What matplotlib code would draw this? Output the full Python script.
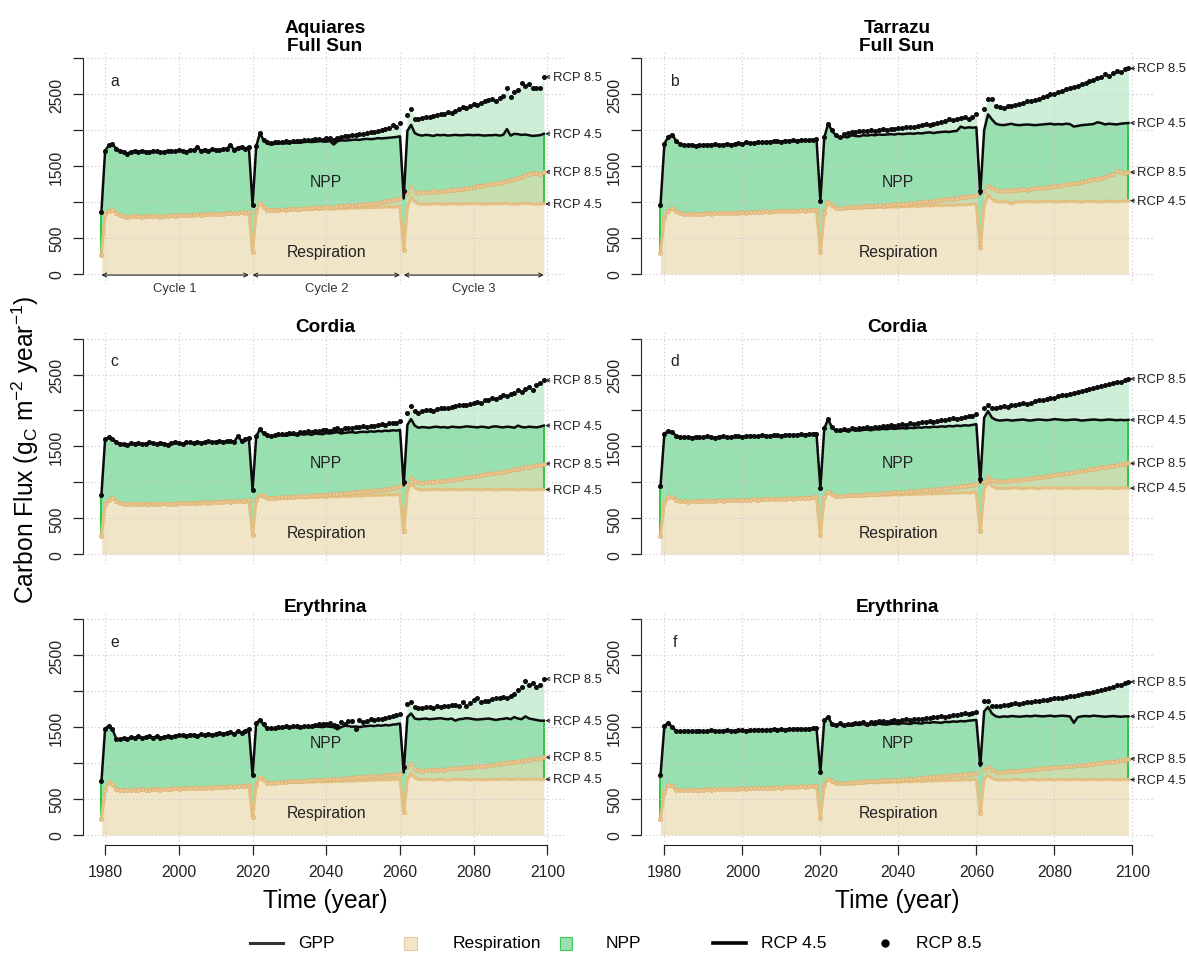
import numpy as np
import matplotlib
matplotlib.use("Agg")
import matplotlib.pyplot as plt
from matplotlib.lines import Line2D
from matplotlib.patches import Rectangle

plt.rcParams['font.family'] = ['Liberation Sans', 'DejaVu Sans']
plt.rcParams['mathtext.default'] = 'regular'

# ---------------- data ----------------
FIRST_YEAR, LAST_YEAR = 1979, 2099
cycle_spans = [(1979, 2019), (2020, 2060), (2061, 2099)]
cycle_names = ['Cycle 1', 'Cycle 2', 'Cycle 3']
x_ticks = [1980, 2000, 2020, 2040, 2060, 2080, 2100]
y_ticks = [0, 500, 1000, 1500, 2000, 2500, 3000]
y_ticklabels = ['0', '500', '', '1500', '', '2500', '']

# Panel a: Aquiares Full Sun
a_gpp_c1 = [867, 1716, 1790, 1808, 1745, 1710, 1700, 1675, 1700, 1710, 1695, 1715, 1700, 1690, 1715, 1705, 1690, 1700, 1715, 1710, 1705, 1720, 1712, 1700, 1720, 1725, 1760, 1715, 1730, 1712, 1735, 1725, 1720, 1735, 1745, 1790, 1730, 1755, 1770, 1745, 1765]
a_resp_c1 = [264, 830, 880, 895, 850, 815, 800, 790, 800, 805, 800, 795, 800, 805, 810, 800, 795, 805, 810, 815, 810, 815, 820, 815, 820, 825, 830, 825, 830, 830, 835, 835, 840, 840, 845, 850, 845, 855, 860, 855, 858]
a_gpp45_c2 = [960, 1780, 1960, 1860, 1815, 1800, 1810, 1815, 1820, 1815, 1825, 1830, 1825, 1830, 1835, 1840, 1835, 1840, 1845, 1850, 1840, 1850, 1800, 1845, 1860, 1855, 1860, 1865, 1870, 1865, 1875, 1880, 1875, 1880, 1890, 1885, 1890, 1895, 1900, 1905, 1915]
a_gpp85_c2 = [960, 1780, 1960, 1870, 1830, 1820, 1830, 1835, 1840, 1845, 1840, 1850, 1855, 1850, 1860, 1870, 1865, 1875, 1880, 1870, 1885, 1890, 1860, 1895, 1910, 1920, 1915, 1930, 1940, 1950, 1945, 1960, 1970, 1975, 1990, 2000, 2010, 2030, 2070, 2040, 2100]
a_resp45_c2 = [301, 870, 985, 930, 890, 885, 880, 885, 890, 885, 890, 895, 890, 895, 900, 895, 900, 905, 900, 905, 910, 905, 900, 910, 915, 910, 915, 920, 915, 920, 925, 920, 925, 925, 930, 925, 930, 935, 930, 935, 940]
a_resp85_c2 = [301, 870, 985, 935, 895, 890, 890, 895, 900, 895, 905, 910, 905, 910, 915, 915, 920, 925, 920, 930, 935, 930, 925, 940, 945, 950, 955, 950, 960, 965, 970, 975, 980, 990, 985, 1000, 1010, 1020, 1030, 1040, 1060]
a_gpp45_c3 = [1050, 1990, 2075, 1960, 1935, 1925, 1935, 1930, 1920, 1935, 1930, 1935, 1925, 1930, 1935, 1930, 1930, 1935, 1935, 1930, 1935, 1930, 1925, 1930, 1930, 1935, 1925, 1935, 2015, 1925, 1950, 1945, 1935, 1940, 1930, 1920, 1925, 1930, 1950]
a_gpp85_c3 = [1150, 2210, 2290, 2160, 2150, 2170, 2190, 2180, 2200, 2210, 2220, 2230, 2250, 2240, 2270, 2290, 2320, 2310, 2340, 2370, 2350, 2380, 2400, 2420, 2440, 2410, 2450, 2480, 2580, 2460, 2530, 2560, 2660, 2620, 2640, 2580, 2590, 2580, 2740]
a_resp45_c3 = [325, 930, 1065, 1010, 975, 970, 975, 970, 975, 980, 975, 970, 975, 980, 975, 970, 975, 980, 975, 978, 980, 975, 970, 975, 980, 978, 975, 980, 985, 975, 970, 975, 980, 985, 980, 975, 970, 975, 975]
a_resp85_c3 = [340, 1120, 1205, 1140, 1130, 1140, 1135, 1145, 1150, 1145, 1155, 1160, 1165, 1170, 1165, 1180, 1185, 1190, 1200, 1210, 1220, 1230, 1235, 1250, 1255, 1265, 1270, 1285, 1300, 1310, 1320, 1330, 1345, 1370, 1390, 1410, 1400, 1395, 1420]

# Panel b: Tarrazu Full Sun
b_gpp_c1 = [960, 1810, 1910, 1935, 1855, 1805, 1795, 1790, 1800, 1785, 1795, 1790, 1800, 1795, 1805, 1790, 1800, 1810, 1800, 1805, 1820, 1810, 1830, 1820, 1825, 1840, 1830, 1835, 1840, 1845, 1850, 1840, 1855, 1850, 1860, 1855, 1860, 1865, 1860, 1870, 1880]
b_resp_c1 = [290, 780, 880, 915, 870, 845, 835, 830, 835, 840, 835, 840, 845, 840, 845, 850, 845, 850, 855, 850, 855, 860, 855, 860, 865, 860, 865, 870, 865, 870, 875, 870, 875, 880, 875, 880, 885, 880, 890, 885, 895]
b_gpp45_c2 = [1020, 1900, 2090, 1990, 1925, 1890, 1910, 1900, 1930, 1920, 1915, 1930, 1925, 1935, 1930, 1940, 1935, 1940, 1945, 1940, 1950, 1945, 1950, 1955, 1950, 1960, 1955, 1965, 1970, 1960, 1970, 1975, 1980, 1975, 1985, 1990, 2050, 2030, 2040, 2035, 2040]
b_gpp85_c2 = [1020, 1900, 2090, 2000, 1940, 1910, 1950, 1960, 1975, 1980, 1985, 1990, 1995, 2000, 1995, 2005, 2010, 2005, 2015, 2020, 2030, 2025, 2040, 2050, 2045, 2060, 2070, 2080, 2075, 2090, 2100, 2110, 2130, 2150, 2140, 2160, 2170, 2180, 2160, 2190, 2220]
b_resp45_c2 = [310, 850, 995, 950, 910, 905, 910, 915, 910, 920, 915, 920, 925, 920, 925, 930, 925, 930, 935, 930, 935, 940, 935, 940, 945, 940, 945, 950, 945, 950, 955, 950, 955, 960, 955, 960, 965, 960, 965, 970, 975]
b_resp85_c2 = [310, 850, 995, 955, 920, 915, 920, 925, 930, 935, 930, 940, 945, 940, 950, 955, 950, 960, 965, 970, 975, 970, 980, 985, 990, 995, 1000, 1010, 1005, 1020, 1030, 1025, 1040, 1050, 1045, 1060, 1070, 1065, 1080, 1090, 1100]
b_gpp45_c3 = [1110, 2000, 2220, 2150, 2090, 2075, 2070, 2080, 2090, 2075, 2070, 2075, 2080, 2075, 2070, 2075, 2080, 2085, 2090, 2080, 2085, 2080, 2090, 2085, 2050, 2060, 2070, 2075, 2080, 2085, 2110, 2100, 2080, 2090, 2085, 2080, 2090, 2095, 2100]
b_gpp85_c3 = [1150, 2290, 2430, 2440, 2330, 2320, 2315, 2330, 2340, 2350, 2360, 2380, 2400, 2410, 2420, 2440, 2460, 2480, 2500, 2510, 2530, 2550, 2570, 2590, 2600, 2620, 2640, 2660, 2680, 2700, 2720, 2740, 2780, 2760, 2800, 2820, 2810, 2850, 2860]
b_resp45_c3 = [350, 950, 1100, 1040, 1010, 1000, 1005, 1000, 975, 1000, 1005, 1000, 1010, 1005, 1000, 1005, 1010, 1005, 1010, 1005, 1000, 1010, 1005, 1015, 1010, 1005, 1000, 1010, 1015, 1010, 1005, 1000, 1010, 1015, 1010, 1005, 1010, 1015, 1020]
b_resp85_c3 = [370, 1150, 1230, 1190, 1170, 1160, 1165, 1160, 1170, 1165, 1175, 1180, 1175, 1185, 1190, 1195, 1200, 1210, 1215, 1225, 1230, 1240, 1250, 1255, 1265, 1270, 1280, 1295, 1305, 1315, 1325, 1340, 1355, 1370, 1390, 1430, 1425, 1410, 1415]

# Panel c: Cordia (left)
c_gpp_c1 = [830, 1600, 1625, 1610, 1560, 1540, 1530, 1520, 1545, 1535, 1550, 1530, 1540, 1555, 1545, 1530, 1550, 1540, 1525, 1545, 1560, 1550, 1540, 1555, 1560, 1545, 1565, 1550, 1560, 1570, 1555, 1565, 1575, 1560, 1570, 1580, 1565, 1640, 1580, 1600, 1620]
c_resp_c1 = [250, 700, 760, 780, 740, 715, 705, 700, 705, 700, 695, 700, 705, 700, 695, 700, 705, 710, 705, 700, 705, 710, 715, 710, 715, 720, 715, 720, 725, 720, 725, 730, 725, 730, 735, 730, 735, 740, 745, 740, 750]
c_gpp45_c2 = [900, 1640, 1740, 1680, 1650, 1640, 1650, 1655, 1660, 1650, 1660, 1665, 1655, 1670, 1665, 1675, 1660, 1680, 1675, 1670, 1685, 1680, 1690, 1700, 1680, 1690, 1695, 1700, 1690, 1700, 1705, 1700, 1710, 1705, 1715, 1710, 1720, 1715, 1725, 1720, 1730]
c_gpp85_c2 = [900, 1640, 1740, 1690, 1660, 1650, 1665, 1670, 1680, 1670, 1685, 1690, 1680, 1700, 1695, 1710, 1700, 1720, 1715, 1725, 1730, 1720, 1740, 1750, 1735, 1750, 1760, 1755, 1770, 1765, 1780, 1775, 1790, 1785, 1800, 1810, 1805, 1820, 1830, 1825, 1850]
c_resp45_c2 = [270, 760, 830, 800, 775, 770, 775, 780, 775, 780, 785, 780, 785, 790, 785, 790, 795, 790, 795, 800, 795, 800, 805, 800, 805, 810, 805, 810, 815, 810, 815, 820, 815, 820, 825, 820, 825, 830, 825, 830, 835]
c_resp85_c2 = [270, 760, 830, 805, 780, 780, 785, 790, 790, 795, 800, 800, 805, 810, 810, 815, 820, 820, 825, 830, 830, 835, 840, 840, 845, 850, 855, 860, 860, 870, 875, 880, 885, 890, 895, 900, 910, 915, 920, 930, 945]
c_gpp45_c3 = [960, 1800, 1880, 1790, 1760, 1770, 1765, 1760, 1770, 1775, 1765, 1770, 1760, 1775, 1770, 1765, 1770, 1780, 1775, 1770, 1765, 1775, 1770, 1760, 1775, 1780, 1770, 1765, 1775, 1770, 1760, 1790, 1770, 1765, 1775, 1770, 1765, 1775, 1790]
c_gpp85_c3 = [1000, 1960, 2060, 1990, 1970, 1990, 2000, 2010, 1990, 2020, 2030, 2040, 2030, 2050, 2060, 2070, 2080, 2075, 2090, 2100, 2120, 2110, 2140, 2150, 2170, 2160, 2190, 2210, 2200, 2230, 2250, 2280, 2260, 2300, 2320, 2290, 2350, 2380, 2420]
c_resp45_c3 = [300, 880, 990, 930, 900, 895, 900, 895, 900, 905, 900, 895, 900, 905, 900, 895, 900, 905, 900, 905, 900, 895, 900, 905, 900, 895, 900, 905, 900, 905, 900, 895, 900, 905, 900, 895, 900, 905, 900]
c_resp85_c3 = [320, 980, 1060, 1020, 1000, 995, 1000, 1005, 1010, 1015, 1020, 1025, 1030, 1040, 1045, 1050, 1060, 1070, 1075, 1085, 1090, 1100, 1110, 1115, 1125, 1135, 1140, 1150, 1160, 1170, 1180, 1190, 1200, 1210, 1220, 1230, 1240, 1245, 1260]

# Panel d: Cordia (right)
d_gpp_c1 = [950, 1680, 1710, 1700, 1650, 1630, 1625, 1630, 1620, 1635, 1630, 1625, 1640, 1630, 1620, 1635, 1640, 1630, 1625, 1640, 1645, 1635, 1640, 1650, 1645, 1640, 1655, 1650, 1645, 1660, 1655, 1650, 1660, 1665, 1655, 1660, 1670, 1665, 1670, 1675, 1680]
d_resp_c1 = [260, 720, 790, 800, 760, 740, 735, 730, 735, 740, 735, 740, 745, 740, 745, 750, 745, 750, 755, 750, 755, 760, 755, 760, 765, 760, 765, 770, 765, 770, 775, 770, 775, 780, 775, 780, 785, 780, 785, 790, 795]
d_gpp45_c2 = [920, 1750, 1880, 1760, 1720, 1710, 1720, 1715, 1730, 1725, 1720, 1730, 1735, 1725, 1740, 1735, 1745, 1740, 1750, 1745, 1750, 1755, 1750, 1760, 1755, 1765, 1760, 1770, 1765, 1775, 1770, 1780, 1775, 1785, 1780, 1790, 1785, 1795, 1790, 1800, 1810]
d_gpp85_c2 = [920, 1750, 1880, 1770, 1730, 1725, 1740, 1735, 1750, 1745, 1750, 1760, 1765, 1760, 1775, 1770, 1785, 1780, 1795, 1790, 1800, 1810, 1805, 1820, 1815, 1830, 1840, 1835, 1850, 1845, 1860, 1870, 1865, 1880, 1890, 1885, 1900, 1910, 1920, 1930, 1950]
d_resp45_c2 = [270, 790, 860, 830, 805, 800, 805, 810, 805, 810, 815, 810, 815, 820, 815, 820, 825, 820, 825, 830, 825, 830, 835, 830, 835, 840, 835, 840, 845, 840, 845, 850, 845, 850, 855, 850, 855, 860, 855, 860, 865]
d_resp85_c2 = [270, 790, 860, 835, 810, 810, 815, 820, 820, 825, 830, 830, 835, 840, 840, 845, 850, 850, 855, 860, 860, 865, 870, 875, 880, 885, 890, 895, 900, 905, 910, 915, 920, 925, 930, 940, 945, 950, 960, 965, 975]
d_gpp45_c3 = [1000, 1900, 1990, 1900, 1870, 1860, 1865, 1870, 1860, 1865, 1870, 1875, 1865, 1860, 1870, 1875, 1870, 1865, 1870, 1880, 1875, 1870, 1865, 1870, 1875, 1870, 1860, 1865, 1870, 1875, 1870, 1865, 1870, 1875, 1870, 1865, 1870, 1865, 1870]
d_gpp85_c3 = [1050, 2040, 2080, 2040, 2030, 2050, 2060, 2055, 2070, 2080, 2090, 2100, 2095, 2110, 2130, 2140, 2150, 2160, 2170, 2180, 2200, 2210, 2220, 2230, 2250, 2260, 2270, 2290, 2300, 2310, 2330, 2340, 2350, 2370, 2380, 2390, 2400, 2420, 2440]
d_resp45_c3 = [310, 900, 1010, 950, 920, 915, 920, 915, 920, 925, 920, 915, 920, 925, 920, 915, 920, 925, 920, 925, 920, 915, 920, 925, 920, 915, 920, 925, 920, 925, 920, 915, 920, 925, 920, 915, 920, 925, 920]
d_resp85_c3 = [330, 1000, 1080, 1040, 1020, 1015, 1020, 1025, 1030, 1035, 1040, 1045, 1050, 1060, 1065, 1070, 1080, 1090, 1095, 1105, 1110, 1120, 1130, 1135, 1145, 1155, 1160, 1170, 1180, 1190, 1200, 1210, 1215, 1225, 1235, 1240, 1250, 1255, 1265]

# Panel e: Erythrina (left)
e_gpp_c1 = [745, 1480, 1520, 1470, 1340, 1330, 1345, 1335, 1360, 1350, 1370, 1345, 1360, 1380, 1355, 1370, 1350, 1365, 1375, 1360, 1380, 1390, 1385, 1380, 1395, 1390, 1380, 1400, 1385, 1410, 1395, 1400, 1420, 1405, 1415, 1430, 1410, 1440, 1425, 1450, 1470]
e_resp_c1 = [225, 620, 740, 710, 640, 620, 625, 630, 625, 620, 630, 635, 625, 630, 640, 635, 630, 640, 645, 640, 650, 645, 650, 655, 650, 655, 660, 655, 660, 665, 660, 665, 670, 665, 670, 675, 670, 675, 680, 685, 690]
e_gpp45_c2 = [830, 1560, 1600, 1530, 1480, 1475, 1480, 1485, 1490, 1500, 1495, 1505, 1500, 1495, 1500, 1505, 1500, 1510, 1505, 1500, 1510, 1505, 1500, 1470, 1500, 1520, 1515, 1505, 1510, 1500, 1510, 1515, 1520, 1515, 1525, 1520, 1530, 1525, 1535, 1540, 1550]
e_gpp85_c2 = [830, 1560, 1600, 1540, 1490, 1485, 1495, 1500, 1505, 1510, 1505, 1515, 1510, 1505, 1515, 1520, 1515, 1530, 1540, 1550, 1545, 1560, 1530, 1510, 1570, 1550, 1590, 1580, 1480, 1600, 1570, 1590, 1610, 1600, 1620, 1615, 1630, 1640, 1660, 1670, 1680]
e_resp45_c2 = [245, 700, 800, 760, 725, 720, 725, 730, 725, 730, 735, 730, 735, 730, 735, 740, 735, 740, 745, 740, 745, 740, 745, 750, 745, 750, 755, 750, 755, 760, 755, 760, 765, 760, 765, 770, 765, 770, 775, 770, 780]
e_resp85_c2 = [245, 700, 800, 765, 730, 725, 730, 735, 735, 740, 745, 745, 750, 750, 755, 760, 760, 765, 770, 770, 775, 775, 780, 785, 785, 790, 795, 795, 800, 805, 805, 810, 815, 815, 820, 825, 830, 835, 840, 845, 850]
e_gpp45_c3 = [870, 1640, 1690, 1620, 1610, 1615, 1620, 1610, 1615, 1620, 1625, 1615, 1610, 1620, 1590, 1610, 1615, 1625, 1620, 1610, 1605, 1610, 1615, 1620, 1610, 1600, 1610, 1615, 1625, 1610, 1640, 1620, 1610, 1650, 1620, 1610, 1600, 1590, 1590]
e_gpp85_c3 = [950, 1820, 1850, 1780, 1760, 1770, 1775, 1780, 1770, 1790, 1780, 1800, 1790, 1805, 1810, 1800, 1850, 1790, 1830, 1880, 1900, 1850, 1860, 1870, 1890, 1900, 1910, 1920, 1905, 1940, 1960, 2010, 2060, 2140, 2080, 2120, 2060, 2090, 2170]
e_resp45_c3 = [300, 780, 850, 800, 775, 770, 775, 770, 765, 770, 775, 770, 765, 770, 775, 770, 775, 770, 765, 770, 775, 770, 765, 770, 775, 770, 775, 780, 775, 770, 775, 780, 775, 770, 775, 780, 775, 770, 775]
e_resp85_c3 = [320, 940, 990, 920, 900, 895, 900, 905, 900, 910, 915, 910, 920, 925, 930, 935, 930, 940, 945, 950, 955, 960, 965, 970, 980, 985, 990, 995, 1000, 1010, 1015, 1025, 1030, 1040, 1050, 1070, 1060, 1075, 1080]

# Panel f: Erythrina (right)
f_gpp_c1 = [830, 1520, 1560, 1500, 1450, 1440, 1445, 1450, 1440, 1445, 1450, 1440, 1445, 1455, 1450, 1440, 1450, 1455, 1445, 1450, 1460, 1455, 1450, 1460, 1455, 1465, 1460, 1455, 1465, 1470, 1460, 1470, 1465, 1475, 1470, 1480, 1475, 1470, 1480, 1485, 1490]
f_resp_c1 = [220, 600, 690, 680, 630, 620, 625, 620, 625, 630, 625, 630, 635, 630, 635, 640, 635, 640, 645, 640, 645, 650, 645, 650, 655, 650, 655, 660, 655, 660, 665, 660, 665, 670, 665, 670, 675, 670, 675, 680, 685]
f_gpp45_c2 = [870, 1600, 1640, 1540, 1520, 1540, 1510, 1530, 1520, 1540, 1530, 1545, 1520, 1540, 1530, 1550, 1540, 1535, 1545, 1550, 1540, 1555, 1550, 1545, 1560, 1555, 1550, 1565, 1560, 1570, 1565, 1560, 1575, 1570, 1580, 1575, 1585, 1580, 1590, 1595, 1600]
f_gpp85_c2 = [870, 1600, 1640, 1550, 1530, 1555, 1525, 1550, 1540, 1560, 1555, 1570, 1550, 1575, 1565, 1585, 1580, 1575, 1590, 1600, 1590, 1605, 1610, 1600, 1620, 1615, 1610, 1630, 1625, 1640, 1635, 1650, 1645, 1660, 1670, 1665, 1680, 1690, 1685, 1695, 1710]
f_resp45_c2 = [240, 690, 780, 740, 715, 710, 715, 720, 715, 720, 725, 720, 725, 730, 725, 730, 735, 730, 735, 740, 735, 740, 745, 740, 745, 750, 745, 750, 755, 750, 755, 760, 755, 760, 765, 760, 765, 770, 765, 770, 775]
f_resp85_c2 = [240, 690, 780, 745, 720, 718, 722, 728, 728, 735, 740, 740, 745, 750, 750, 755, 760, 760, 765, 770, 770, 775, 780, 780, 785, 790, 795, 800, 800, 805, 810, 815, 820, 825, 830, 835, 840, 845, 850, 855, 865]
f_gpp45_c3 = [960, 1720, 1780, 1690, 1650, 1640, 1650, 1645, 1655, 1650, 1645, 1650, 1655, 1650, 1660, 1655, 1650, 1655, 1660, 1650, 1655, 1660, 1655, 1650, 1560, 1640, 1650, 1655, 1650, 1660, 1655, 1650, 1645, 1650, 1655, 1650, 1645, 1650, 1650]
f_gpp85_c3 = [1000, 1860, 1870, 1800, 1790, 1800, 1810, 1805, 1820, 1830, 1825, 1840, 1850, 1845, 1860, 1870, 1880, 1875, 1890, 1900, 1910, 1905, 1920, 1930, 1940, 1950, 1960, 1970, 1980, 1990, 2000, 2010, 2030, 2040, 2060, 2080, 2090, 2110, 2130]
f_resp45_c3 = [290, 790, 830, 790, 770, 765, 770, 765, 770, 775, 770, 765, 770, 775, 770, 765, 770, 775, 770, 765, 770, 775, 770, 765, 770, 775, 770, 765, 770, 775, 770, 765, 770, 775, 770, 765, 770, 775, 770]
f_resp85_c3 = [310, 900, 950, 900, 880, 875, 880, 885, 890, 895, 895, 900, 905, 910, 915, 920, 925, 930, 935, 940, 945, 950, 955, 960, 965, 970, 975, 980, 985, 990, 995, 1000, 1010, 1015, 1020, 1030, 1040, 1050, 1060]

panel_titles = [["Aquiares", "Full Sun"], ["Tarrazu", "Full Sun"], ["Cordia"], ["Cordia"],
                ["Erythrina"], ["Erythrina"]]
panel_letters = ['a', 'b', 'c', 'd', 'e', 'f']
panel_data = [
    (a_gpp_c1, a_resp_c1, a_gpp45_c2, a_gpp85_c2, a_resp45_c2, a_resp85_c2, a_gpp45_c3, a_gpp85_c3, a_resp45_c3, a_resp85_c3),
    (b_gpp_c1, b_resp_c1, b_gpp45_c2, b_gpp85_c2, b_resp45_c2, b_resp85_c2, b_gpp45_c3, b_gpp85_c3, b_resp45_c3, b_resp85_c3),
    (c_gpp_c1, c_resp_c1, c_gpp45_c2, c_gpp85_c2, c_resp45_c2, c_resp85_c2, c_gpp45_c3, c_gpp85_c3, c_resp45_c3, c_resp85_c3),
    (d_gpp_c1, d_resp_c1, d_gpp45_c2, d_gpp85_c2, d_resp45_c2, d_resp85_c2, d_gpp45_c3, d_gpp85_c3, d_resp45_c3, d_resp85_c3),
    (e_gpp_c1, e_resp_c1, e_gpp45_c2, e_gpp85_c2, e_resp45_c2, e_resp85_c2, e_gpp45_c3, e_gpp85_c3, e_resp45_c3, e_resp85_c3),
    (f_gpp_c1, f_resp_c1, f_gpp45_c2, f_gpp85_c2, f_resp45_c2, f_resp85_c2, f_gpp45_c3, f_gpp85_c3, f_resp45_c3, f_resp85_c3),
]

# ---------------- style ----------------
TAN = '#F1E5C8'
GREENTAN = '#C6DDAE'
GREEN = '#98E0AF'
LIGHTGREEN = '#CDEFD7'
EDGE_GREEN = '#2DC840'
RESP_LINE = '#E3BF80'
RESP_DOT_FC = '#EBC590'
RESP_DOT_EC = '#DAB070'
GPP_COL = '#0C0C0C'
AXCOL = '#222222'

W, H = 1187, 954
fig = plt.figure(figsize=(W / 100, H / 100), dpi=100)

PXU = 215.7 / 3000.0
YMIN, YMAX = -135, 3120
XMIN, XMAX = 1974.0, 2105.3
cols = [(83, 567), (641, 1153)]
zeros = [275, 555.3, 836]

def rect(col, row):
    x0, x1 = cols[col]
    z = zeros[row]
    top = z - YMAX * PXU
    bot = z - YMIN * PXU
    return [x0 / W, 1 - bot / H, (x1 - x0) / W, (bot - top) / H]

years = np.arange(FIRST_YEAR, LAST_YEAR + 1)

for i in range(6):
    row, col = divmod(i, 2)
    (g1, r1, g45c2, g85c2, r45c2, r85c2, g45c3, g85c3, r45c3, r85c3) = panel_data[i]
    gpp45 = np.array(g1 + g45c2 + g45c3, float)
    gpp85 = np.array(g1 + g85c2 + g85c3, float)
    resp45 = np.array(r1 + r45c2 + r45c3, float)
    resp85 = np.array(r1 + r85c2 + r85c3, float)

    ax = fig.add_axes(rect(col, row))
    ax.set_xlim(XMIN, XMAX)
    ax.set_ylim(YMIN, YMAX)

    rtop = np.maximum(resp45, resp85)
    ax.fill_between(years, 0, resp45, color=TAN, lw=0, zorder=1)
    ax.fill_between(years, resp45, rtop, color=GREENTAN, lw=0, zorder=1)
    ax.fill_between(years, rtop, gpp45, color=GREEN, lw=0, zorder=1)
    ax.fill_between(years, gpp45, np.maximum(gpp45, gpp85), color=LIGHTGREEN, lw=0, zorder=1)
    ax.vlines([years[0]], [resp45[0]], [gpp45[0]], color=EDGE_GREEN, lw=1.4, zorder=1.5)
    ax.vlines([years[-1]], [resp45[-1]], [gpp45[-1]], color=EDGE_GREEN, lw=1.4, zorder=1.5)

    ax.plot(years, resp45, color=RESP_LINE, lw=2.2, zorder=3, solid_joinstyle='round')
    ax.plot(years, resp85, ls='none', marker='o', ms=3.0, mfc=RESP_DOT_FC, mec=RESP_DOT_EC,
            mew=0.5, zorder=3.5)
    ax.plot(years, gpp45, color=GPP_COL, lw=1.8, zorder=4, solid_joinstyle='round')
    ax.plot(years, gpp85, ls='none', marker='o', ms=2.6, color=GPP_COL, zorder=4.5)

    # end labels
    for val, lab in [(gpp85[-1], 'RCP 8.5'), (gpp45[-1], 'RCP 4.5'),
                     (resp85[-1], 'RCP 8.5'), (resp45[-1], 'RCP 4.5')]:
        ax.annotate(lab, xy=(years[-1], val), xytext=(9, 0), textcoords='offset pixels',
                    ha='left', va='center', fontsize=9.4, color='#222222',
                    annotation_clip=False,
                    arrowprops=dict(arrowstyle='->', color='#222222', lw=0.7,
                                    shrinkA=0, shrinkB=1, mutation_scale=6))

    ax.text(2040, 1280, 'NPP', ha='center', va='center', fontsize=11.3, color='#222222', zorder=6)
    ax.text(2040, 310, 'Respiration', ha='center', va='center', fontsize=11.3, color='#222222', zorder=6)
    ax.text(1982.6, 2690, panel_letters[i], ha='center', va='center', fontsize=11.3, color='#222222')

    # grid and axes
    ax.set_xticks(x_ticks)
    ax.set_yticks(y_ticks)
    ax.set_yticklabels(y_ticklabels)
    ax.set_axisbelow(False)
    ax.grid(True, color='#D0D0D0', linestyle=(0, (1.2, 2.2)), lw=0.8)
    for s in ['top', 'right']:
        ax.spines[s].set_visible(False)
    ax.spines['left'].set_bounds(0, 3000)
    ax.spines['left'].set_color(AXCOL)
    ax.tick_params(axis='y', length=7.4, width=0.9, color=AXCOL, labelsize=11.3,
                   labelcolor='#222222', pad=6.3, labelrotation=90)
    for lab in ax.get_yticklabels():
        lab.set_va('center')
    if row == 2:
        ax.spines['bottom'].set_bounds(1980, 2100)
        ax.spines['bottom'].set_color(AXCOL)
        ax.tick_params(axis='x', length=7.0, width=0.9, color=AXCOL, labelsize=11.3,
                       labelcolor='#222222', pad=6.9)
    else:
        ax.spines['bottom'].set_visible(False)
        ax.tick_params(axis='x', length=0, labelbottom=False)
    ax.set_facecolor('none')

    # titles
    x0, x1 = cols[col]
    xc = (x0 + x1) / 2 / W
    base = zeros[row] - 3000 * PXU - 8
    lines = panel_titles[i]
    for k, t in enumerate(reversed(lines)):
        fig.text(xc, 1 - (base - 18 * k) / H, t, ha='center', va='baseline',
                 fontsize=13.7, fontweight='bold', color='black')

    # cycles annotation on panel a
    if i == 0:
        for (s, e), name in zip(cycle_spans, cycle_names):
            ax.annotate('', xy=(e, -15), xytext=(s, -15), annotation_clip=False,
                        arrowprops=dict(arrowstyle='<->', color='#222222', lw=0.8,
                                        shrinkA=0, shrinkB=0, mutation_scale=7))
            ax.text((s + e) / 2, -190, name, ha='center', va='center', fontsize=9.4,
                    color='#333333', clip_on=False)

# axis labels
fig.text(25 / W, 1 - 450 / H, 'Carbon Flux (g$_C$ m$^{-2}$ year$^{-1}$)', rotation=90,
         ha='center', va='center', fontsize=17.7, color='black')
for col in range(2):
    x0, x1 = cols[col]
    fig.text((x0 + x1) / 2 / W, 1 - 901 / H, 'Time (year)', ha='center', va='center',
             fontsize=17.7, color='black')

# legend (overlay axes in pixel coordinates)
lax = fig.add_axes([0, 0, 1, 1])
lax.set_xlim(0, W)
lax.set_ylim(H, 0)
lax.axis('off')
ly = 944
lax.add_line(Line2D([250, 283], [ly, ly], color='#333333', lw=2.2))
lax.text(298, ly, 'GPP', ha='left', va='center', fontsize=12.6)
lax.add_patch(Rectangle((404, ly - 6.5), 13, 13, facecolor=TAN, edgecolor='#E3D0A0', lw=0.8))
lax.text(453, ly, 'Respiration', ha='left', va='center', fontsize=12.6)
lax.add_patch(Rectangle((560, ly - 6.5), 12, 13, facecolor=GREEN, edgecolor='#3DCB55', lw=0.8))
lax.text(606, ly, 'NPP', ha='left', va='center', fontsize=12.6)
lax.add_line(Line2D([713, 746], [ly, ly], color='black', lw=2.6))
lax.text(761, ly, 'RCP 4.5', ha='left', va='center', fontsize=12.6)
lax.add_line(Line2D([885], [ly], color='black', marker='o', ms=5, ls='none'))
lax.text(916, ly, 'RCP 8.5', ha='left', va='center', fontsize=12.6)

fig.savefig('out.png', dpi=100)
